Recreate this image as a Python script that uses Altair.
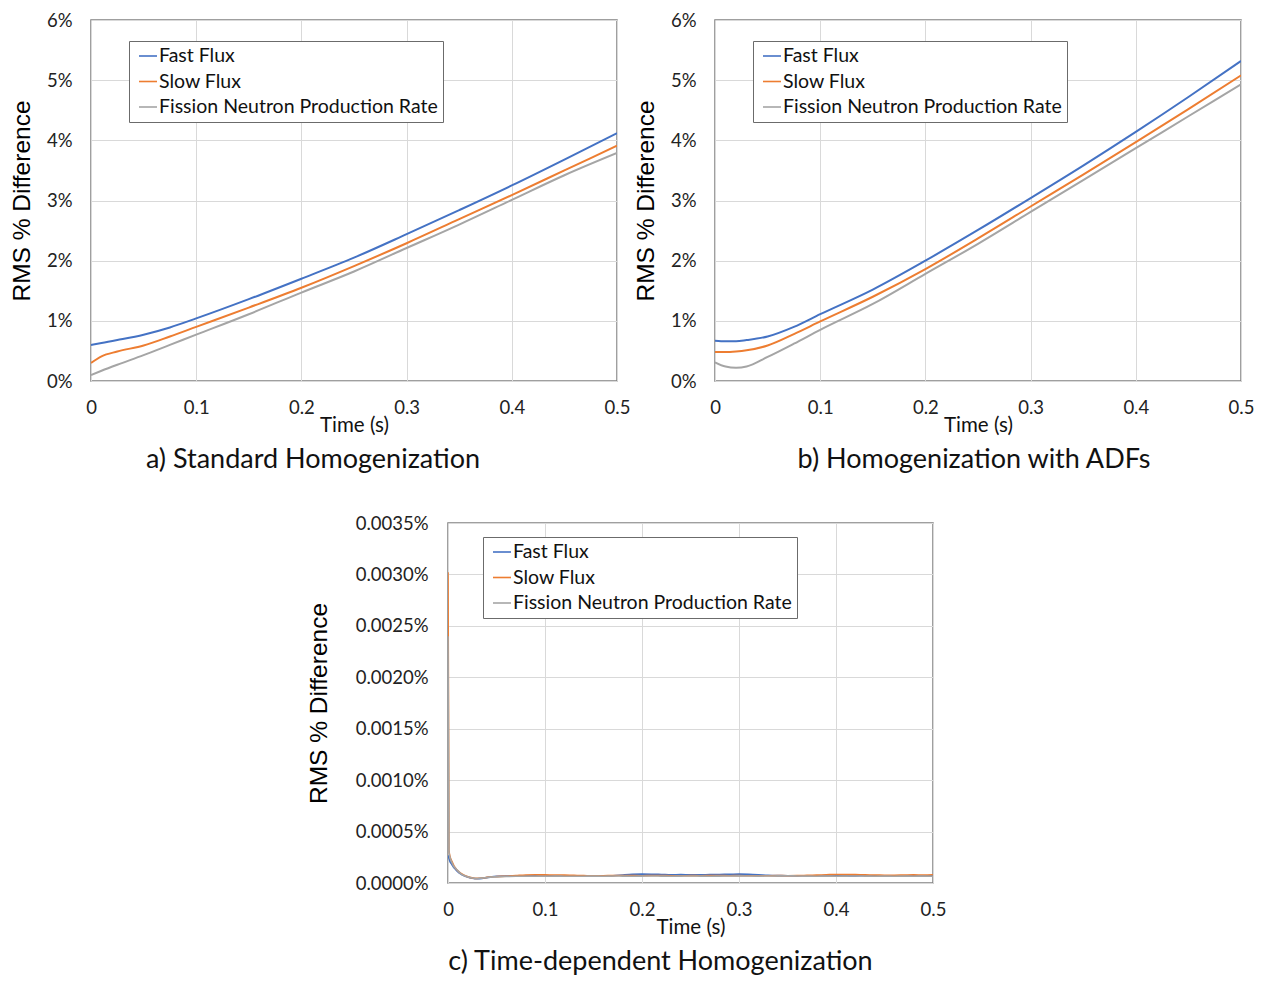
import altair as alt
import pandas as pd

SERIES = ["Fast Flux", "Slow Flux", "Fission Neutron Production Rate"]
COLORS = ["#4472C4", "#ED7D31", "#A5A5A5"]

# ---- panel a: Standard Homogenization (values in %) ----
ta = [0, 0.01, 0.025, 0.05, 0.075, 0.1, 0.15, 0.2, 0.25, 0.3, 0.35, 0.4, 0.45, 0.5]
a_fast = [0.60, 0.63, 0.68, 0.77, 0.89, 1.04, 1.36, 1.70, 2.05, 2.44, 2.84, 3.25, 3.68, 4.12]
a_slow = [0.30, 0.41, 0.49, 0.59, 0.74, 0.90, 1.22, 1.55, 1.91, 2.29, 2.69, 3.09, 3.50, 3.91]
a_gray = [0.10, 0.17, 0.27, 0.43, 0.60, 0.77, 1.11, 1.47, 1.82, 2.21, 2.60, 3.01, 3.42, 3.79]

# ---- panel b: Homogenization with ADFs (values in %) ----
tb = [0, 0.01, 0.02, 0.03, 0.05, 0.075, 0.1, 0.15, 0.2, 0.25, 0.3, 0.35, 0.4, 0.45, 0.5]
b_fast = [0.67, 0.66, 0.66, 0.68, 0.74, 0.90, 1.11, 1.52, 2.00, 2.51, 3.04, 3.58, 4.14, 4.72, 5.32]
b_slow = [0.48, 0.48, 0.49, 0.51, 0.59, 0.78, 0.99, 1.40, 1.86, 2.37, 2.90, 3.43, 3.97, 4.52, 5.08]
b_gray = [0.31, 0.24, 0.22, 0.24, 0.40, 0.62, 0.85, 1.28, 1.78, 2.28, 2.81, 3.34, 3.87, 4.40, 4.93]

# ---- panel c: Time-dependent Homogenization (values in %) ----
tc = [0, 0.001, 0.002, 0.004, 0.006, 0.008, 0.01, 0.013, 0.016, 0.02, 0.025, 0.03, 0.035, 0.04,
      0.05, 0.06, 0.07, 0.08, 0.09, 0.10, 0.11, 0.12, 0.13, 0.14,
      0.15, 0.16, 0.17, 0.18, 0.19, 0.20, 0.21, 0.22, 0.23, 0.24,
      0.25, 0.26, 0.27, 0.28, 0.29, 0.30, 0.31, 0.32, 0.33, 0.34,
      0.35, 0.36, 0.37, 0.38, 0.39, 0.40, 0.41, 0.42, 0.43, 0.44,
      0.45, 0.46, 0.47, 0.48, 0.49, 0.50]
c_fast = [0.00027, 0.00024, 0.00021, 0.00018, 0.00015, 0.00013, 0.00011, 0.000088, 0.000072, 0.000058, 0.000047, 0.000042, 0.000045, 0.000052,
          0.000066, 0.000068, 0.000067, 0.000070, 0.000069, 0.000068, 0.000070, 0.000071, 0.000069, 0.000068,
          0.000070, 0.000069, 0.000071, 0.000078, 0.000084, 0.000086, 0.000085, 0.000083, 0.000080, 0.000081,
          0.000079, 0.000080, 0.000081, 0.000083, 0.000084, 0.000086, 0.000084, 0.000080, 0.000075, 0.000072,
          0.000070, 0.000069, 0.000071, 0.000070, 0.000072, 0.000071, 0.000070, 0.000069, 0.000071, 0.000070,
          0.000069, 0.000070, 0.000071, 0.000070, 0.000069, 0.000070]
c_slow = [0.00302, 0.00032, 0.00026, 0.00021, 0.00017, 0.00014, 0.00012, 0.000095, 0.000078, 0.000062, 0.000050, 0.000045, 0.000048, 0.000055,
          0.000062, 0.000066, 0.000072, 0.000078, 0.000080, 0.000079, 0.000078, 0.000077, 0.000074, 0.000072,
          0.000070, 0.000071, 0.000072, 0.000073, 0.000072, 0.000071, 0.000073, 0.000072, 0.000071, 0.000070,
          0.000072, 0.000071, 0.000072, 0.000073, 0.000071, 0.000072, 0.000070, 0.000069, 0.000071, 0.000072,
          0.000071, 0.000072, 0.000074, 0.000077, 0.000080, 0.000083, 0.000082, 0.000081, 0.000079, 0.000078,
          0.000076, 0.000075, 0.000077, 0.000079, 0.000078, 0.000080]
c_gray = [0.00240, 0.00030, 0.00025, 0.00020, 0.00016, 0.00014, 0.00012, 0.000092, 0.000075, 0.000060, 0.000048, 0.000044, 0.000047, 0.000054,
          0.000060, 0.000063, 0.000065, 0.000066, 0.000066, 0.000065, 0.000067, 0.000066, 0.000065, 0.000066,
          0.000067, 0.000066, 0.000068, 0.000067, 0.000066, 0.000067, 0.000068, 0.000067, 0.000066, 0.000067,
          0.000068, 0.000067, 0.000066, 0.000067, 0.000068, 0.000069, 0.000068, 0.000067, 0.000068, 0.000069,
          0.000070, 0.000068, 0.000067, 0.000066, 0.000067, 0.000066, 0.000067, 0.000068, 0.000067, 0.000066,
          0.000067, 0.000066, 0.000067, 0.000066, 0.000067, 0.000066]

X_TICKS = [0, 0.1, 0.2, 0.3, 0.4, 0.5]
Y_TICKS_AB = [0, 1, 2, 3, 4, 5, 6]
Y_TICKS_C = [0, 0.0005, 0.001, 0.0015, 0.002, 0.0025, 0.003, 0.0035]

TITLES = ["a) Standard Homogenization", "b) Homogenization with ADFs", "c) Time-dependent Homogenization"]

FONT = "Lato"


def long_df(t, fast, slow, gray):
    rows = []
    for name, vals in zip(SERIES, [fast, slow, gray]):
        for i, (ti, vi) in enumerate(zip(t, vals)):
            rows.append({"t": ti, "v": vi, "series": name, "idx": i})
    return pd.DataFrame(rows)


def panel(df, ymax, yticks, ylabel_expr, title, w, h, legxy, title_dx, y_title_pad, y_lab_pad, sw):
    color = alt.Color(
        "series:N",
        scale=alt.Scale(domain=SERIES, range=COLORS),
        legend=alt.Legend(
            title=None, orient="none", legendX=legxy[0], legendY=legxy[1],
            symbolType="stroke", symbolSize=324, symbolStrokeWidth=1.6,
            labelFont=FONT, labelFontSize=19.5, labelColor="#111111",
            labelOffset=1, rowPadding=5.5, padding=5, symbolOffset=4,
            strokeColor="#6b6b6b", fillColor="white", labelLimit=400,
        ),
    )
    x = alt.X(
        "t:Q", scale=alt.Scale(domain=[0, 0.5], nice=False, zero=False),
        axis=alt.Axis(values=X_TICKS, format="~g", labelFlush=False, title="Time (s)",
                      titleFont=FONT, titleFontSize=20.5, titleFontWeight="normal",
                      titleColor="#111111", titleBaseline="middle", titleY=44,
                      labelFont=FONT, labelFontSize=18.5, labelColor="#222222",
                      labelPadding=17, ticks=False, domain=False,
                      grid=True, gridColor="#d9d9d9", gridWidth=1),
    )
    y = alt.Y(
        "v:Q", scale=alt.Scale(domain=[0, ymax], nice=False),
        axis=alt.Axis(values=yticks, labelExpr=ylabel_expr, title="RMS % Difference",
                      titleFont="Liberation Sans", titleFontSize=24.5, titleFontWeight="normal",
                      titleColor="#000000", titlePadding=y_title_pad,
                      labelFont=FONT, labelFontSize=18.5, labelColor="#222222",
                      labelPadding=y_lab_pad, ticks=False, domain=False,
                      grid=True, gridColor="#d9d9d9", gridWidth=1),
    )
    layers = []
    for s in SERIES:
        layers.append(
            alt.Chart(df).transform_filter(alt.datum.series == s)
            .mark_line(strokeWidth=sw, clip=True, interpolate="monotone")
            .encode(x=x, y=y, color=color, order="idx:Q")
        )
    return alt.layer(*layers).properties(
        width=w, height=h,
        title=alt.TitleParams(title, orient="bottom", anchor="middle", frame="group",
                              font=FONT, fontSize=27, fontWeight="normal", color="#111111",
                              offset=11, dx=title_dx),
    )


df_a = long_df(ta, a_fast, a_slow, a_gray)
df_b = long_df(tb, b_fast, b_slow, b_gray)
df_c = long_df(tc, c_fast, c_slow, c_gray)

ab_expr = "format(datum.value, 'd') + '%'"
c_expr = "format(datum.value, '.4f') + '%'"

pa = panel(df_a, 6, Y_TICKS_AB, ab_expr, TITLES[0], 526, 361, (38, 21), -41, 12, 19, 2)
pb = panel(df_b, 6, Y_TICKS_AB, ab_expr, TITLES[1], 526, 361, (38, 21), -4, 12, 19, 2)
pc = panel(df_c, 0.0035, Y_TICKS_C, c_expr, TITLES[2], 485, 360, (35, 14), -30, 24, 20, 1.6)

spacer = alt.Chart(pd.DataFrame({"z": [0]})).mark_point(opacity=0, size=1).encode(
    x=alt.value(2), y=alt.value(2)
).properties(width=213, height=10, view=alt.ViewBackground(stroke="transparent"))

row1 = alt.hconcat(pa, pb, spacing=1).resolve_scale(color="independent")
row2 = alt.hconcat(spacer, pc, spacing=0).resolve_scale(color="independent")
chart = alt.vconcat(row1, row2, spacing=39).resolve_scale(color="independent").properties(
    padding={"left": 0, "top": 2, "right": 0, "bottom": 0},
    background="white",
).configure_view(
    stroke="#808080", strokeWidth=1.5
)

chart.save("out.html", embed_options={"renderer": "svg", "actions": False})
